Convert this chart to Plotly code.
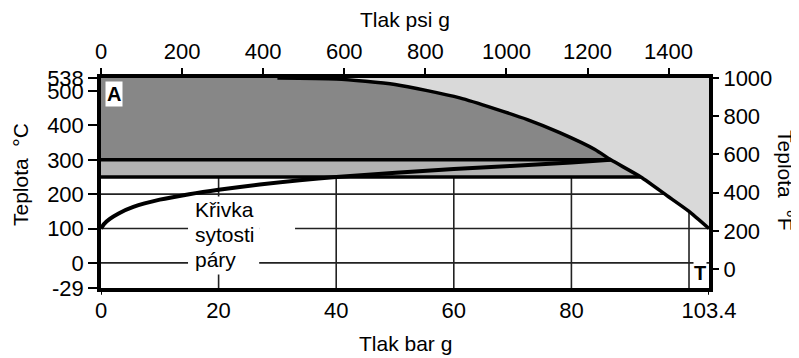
import plotly.graph_objects as go

# ---------------- data ----------------
# pressure-temperature limit curve (bar g, degC)
RATING_BAR = [30, 40, 50, 61, 72.5, 78, 84, 86.7, 91.8, 96.4, 100, 103.4]
RATING_C = [538, 535, 519, 480, 417, 379, 330, 300, 250, 194, 150, 100]

# steam saturation curve (bar g, degC)
SAT_BAR = [0, 0.5, 1.5, 3, 5.5, 10, 15, 20, 27, 40, 60, 80, 86.7]
SAT_C = [100, 113, 128, 144, 163, 184, 200, 213, 228, 250, 273, 292, 300]

# horizontal limit lines (degC)
LIMIT_LOW_C = 250
LIMIT_HIGH_C = 300

# axes
BAR_MAX = 103.4
TEMP_MAX_C = 538
AXIS_BOTTOM_C = -73           # drawn bottom of the (broken) temperature axis
BAR_TICKS = [0, 20, 40, 60, 80, 103.4]
BAR_GRID = [20, 40, 60, 80, 100]
PSI_TICKS = [0, 200, 400, 600, 800, 1000, 1200, 1400]
C_TICKS = [-29, 0, 100, 200, 300, 400, 500, 538]
C_GRID = [0, 100, 200]
F_TICKS = [0, 200, 400, 600, 800, 1000]
PSI_PER_BAR = 14.5038

SAT_LABEL = ["Křivka", "sytosti", "páry"]

FONT = "Liberation Sans, Arial, Helvetica, sans-serif"
DARK = "#878787"
MID = "#b2b2b2"
LIGHT = "#d9d9d9"


def x_at(temp):
    """bar value on the rating curve at a given temperature (curve is monotonic)."""
    for i in range(len(RATING_C) - 1):
        t0, t1 = RATING_C[i], RATING_C[i + 1]
        if t0 >= temp >= t1:
            f = (t0 - temp) / (t0 - t1) if t0 != t1 else 0
            return RATING_BAR[i] + f * (RATING_BAR[i + 1] - RATING_BAR[i])
    return RATING_BAR[-1]


fig = go.Figure()

# light grey region (above / right of curve)
fig.add_trace(go.Scatter(
    x=RATING_BAR + [BAR_MAX, RATING_BAR[0]],
    y=RATING_C + [TEMP_MAX_C, TEMP_MAX_C],
    fill="toself", fillcolor=LIGHT, line=dict(width=0), mode="lines",
    hoverinfo="skip", showlegend=False))

# dark grey region (above 300 C, left of curve)
xb_hi = x_at(LIMIT_HIGH_C)
dk_x = [0] + [b for b, t in zip(RATING_BAR, RATING_C) if t > LIMIT_HIGH_C] + [xb_hi, 0]
dk_y = [TEMP_MAX_C] + [t for t in RATING_C if t > LIMIT_HIGH_C] + [LIMIT_HIGH_C, LIMIT_HIGH_C]
fig.add_trace(go.Scatter(x=dk_x, y=dk_y, fill="toself", fillcolor=DARK,
                         line=dict(width=0), mode="lines", hoverinfo="skip",
                         showlegend=False))

# medium grey band (250-300 C)
xb_lo = x_at(LIMIT_LOW_C)
md_x = [0, xb_hi] + [b for b, t in zip(RATING_BAR, RATING_C)
                     if LIMIT_LOW_C < t < LIMIT_HIGH_C] + [xb_lo, 0]
md_y = [LIMIT_HIGH_C, LIMIT_HIGH_C] + [t for t in RATING_C
                                       if LIMIT_LOW_C < t < LIMIT_HIGH_C] + [LIMIT_LOW_C, LIMIT_LOW_C]
fig.add_trace(go.Scatter(x=md_x, y=md_y, fill="toself", fillcolor=MID,
                         line=dict(width=0), mode="lines", hoverinfo="skip",
                         showlegend=False))

# limit lines
for temp, xe in ((LIMIT_HIGH_C, xb_hi), (LIMIT_LOW_C, xb_lo)):
    fig.add_trace(go.Scatter(x=[0, xe], y=[temp, temp], mode="lines",
                             line=dict(color="black", width=3.5),
                             hoverinfo="skip", showlegend=False))

# curves
fig.add_trace(go.Scatter(x=RATING_BAR, y=RATING_C, mode="lines",
                         line=dict(color="black", width=3.5, shape="spline", smoothing=0.6),
                         hoverinfo="skip", showlegend=False))
fig.add_trace(go.Scatter(x=SAT_BAR, y=SAT_C, mode="lines",
                         line=dict(color="black", width=4, shape="spline", smoothing=0.6),
                         hoverinfo="skip", showlegend=False))

# invisible trace for the secondary (psi / degF) axes
fig.add_trace(go.Scatter(x=[0, BAR_MAX * PSI_PER_BAR],
                         y=[AXIS_BOTTOM_C * 9 / 5 + 32, TEMP_MAX_C * 9 / 5 + 32],
                         xaxis="x2", yaxis="y2", mode="markers",
                         marker=dict(opacity=0), hoverinfo="skip", showlegend=False))

shapes = []
for g in C_GRID:
    shapes.append(dict(type="line", xref="x", yref="y", x0=0, x1=BAR_MAX, y0=g, y1=g,
                       line=dict(color="#222222", width=1.6), layer="below"))
for g in BAR_GRID:
    shapes.append(dict(type="line", xref="x", yref="y", x0=g, x1=g,
                       y0=AXIS_BOTTOM_C, y1=TEMP_MAX_C,
                       line=dict(color="#222222", width=1.6), layer="below"))
# white masks behind the saturation label
shapes.append(dict(type="rect", xref="x", yref="y", x0=14.8, x1=26.9, y0=-34, y1=193,
                   fillcolor="white", line=dict(width=0), layer="below"))
shapes.append(dict(type="rect", xref="x", yref="y", x0=26.9, x1=33.0, y0=88, y1=112,
                   fillcolor="white", line=dict(width=0), layer="below"))
# short tick extensions of the frame below the bottom axis at its end values
for v in (BAR_TICKS[0], BAR_TICKS[-1]):
    shapes.append(dict(type="line", xref="x", yref="paper", x0=v, x1=v, y0=0, y1=-0.032,
                       line=dict(color="black", width=2)))

annotations = []
# saturation label lines
for i, txt in enumerate(SAT_LABEL):
    annotations.append(dict(text=txt, xref="x", yref="y", x=15.6, y=82.5,
                            yshift=25 * (1 - i), xanchor="left", yanchor="middle",
                            showarrow=False, font=dict(family=FONT, size=21, color="black")))
# corner boxes
annotations.append(dict(text="<b>A</b>", xref="paper", yref="paper", x=0, y=1,
                        xanchor="left", yanchor="top", xshift=4, yshift=-3,
                        showarrow=False, bgcolor="white", borderpad=1,
                        font=dict(family=FONT, size=20, color="black")))
annotations.append(dict(text="<b>T</b>", xref="paper", yref="paper", x=1, y=0,
                        xanchor="right", yanchor="bottom", xshift=-2, yshift=3,
                        showarrow=False, bgcolor="white", borderpad=0,
                        font=dict(family=FONT, size=20, color="black")))
# axis titles
tfont = dict(family=FONT, size=21, color="black")
annotations += [
    dict(text="Tlak psi g", xref="paper", yref="paper", x=0.5, y=1, yshift=59,
         xanchor="center", yanchor="middle", showarrow=False, font=tfont),
    dict(text="Tlak bar g", xref="paper", yref="paper", x=0.5, y=0, yshift=-55,
         xanchor="center", yanchor="middle", showarrow=False, font=tfont),
    dict(text="Teplota  °C", xref="paper", yref="paper", x=0, y=0.538, xshift=-81,
         xanchor="center", yanchor="middle", textangle=-90, showarrow=False, font=tfont),
    dict(text="Teplota  °F", xref="paper", yref="paper", x=1, y=0.514, xshift=77,
         xanchor="center", yanchor="middle", textangle=90, showarrow=False, font=tfont),
]

tick_font = dict(family=FONT, size=22, color="black")
c_tickvals = [AXIS_BOTTOM_C] + C_TICKS[1:]

# the page body adds an 8 px margin, so the figure is made 8 px smaller
fig.update_layout(
    width=791, height=350,
    margin=dict(l=93, r=90, t=70, b=70, autoexpand=False),
    paper_bgcolor="white", plot_bgcolor="white",
    showlegend=False,
    xaxis=dict(range=[0, BAR_MAX], tickvals=BAR_TICKS, automargin=False,
               ticktext=[str(v) for v in BAR_TICKS],
               showgrid=False, zeroline=False, showline=True, linewidth=3.5,
               linecolor="black", mirror=True, ticks="", tickfont=tick_font),
    xaxis2=dict(range=[0, BAR_MAX * PSI_PER_BAR], overlaying="x", side="top",
                anchor="y", tickvals=PSI_TICKS, showgrid=False, zeroline=False,
                automargin=False,
                showline=False, ticks="outside", ticklen=9, tickwidth=1.5,
                tickcolor="black", tickfont=tick_font),
    yaxis=dict(range=[AXIS_BOTTOM_C, TEMP_MAX_C], tickvals=c_tickvals,
               automargin=False,
               ticktext=[str(v) for v in C_TICKS], showgrid=False, zeroline=False,
               showline=True, linewidth=3.5, linecolor="black", mirror=True,
               ticks="outside", ticklen=9, tickwidth=1.5, tickcolor="black",
               tickfont=tick_font),
    yaxis2=dict(range=[AXIS_BOTTOM_C * 9 / 5 + 32, TEMP_MAX_C * 9 / 5 + 32],
                overlaying="y", side="right", anchor="x", tickvals=F_TICKS,
                automargin=False,
                showgrid=False, zeroline=False, showline=False, ticks="outside",
                ticklen=9, tickwidth=1.5, tickcolor="black", tickfont=tick_font),
    shapes=shapes,
    annotations=annotations,
)

fig.write_html("out.html")
